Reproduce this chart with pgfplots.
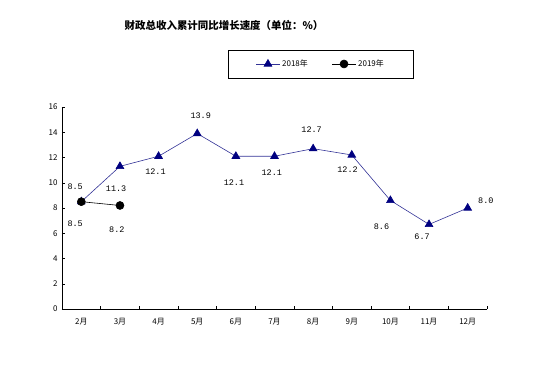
\documentclass[border=0pt]{standalone}
\usepackage{fontspec}
\setmainfont{Liberation Sans}
\newfontfamily\cjk{Noto Sans CJK SC}
\newfontfamily\lab{Liberation Mono}
\usepackage{pgfplots}
\pgfplotsset{compat=1.18}
\definecolor{navy}{RGB}{0,0,128}
\definecolor{navyline}{RGB}{50,50,150}
\begin{document}
\begin{tikzpicture}
\useasboundingbox (0,0) rectangle (533bp,386bp);
\node[font=\cjk\bfseries\fontsize{10.5}{12}\selectfont] at (224bp,361bp) {财政总收入累计同比增长速度（单位：\%）};
\begin{axis}[
  at={(62bp,77bp)}, anchor=south west,
  scale only axis, width=425bp, height=202bp,
  xmin=-0.5, xmax=10.5, ymin=0, ymax=16,
  axis x line*=bottom, axis y line*=left,
  xtick={0,...,10},
  xticklabels={2月,3月,4月,5月,6月,7月,8月,9月,10月,11月,12月},
  minor xtick={-0.5,0.5,...,10.5},
  major x tick style={draw=none},
  ytick={0,2,...,16},
  tick align=inside,
  major tick length=3bp, minor tick length=3bp,
  tick style={black, line width=0.5pt},
  axis line style={black, line width=0.6pt},
  x tick label style={font=\cjk\fontsize{8}{9}\selectfont, yshift=-6bp},
  y tick label style={font=\cjk\fontsize{8}{9}\selectfont, xshift=-1bp},
  /pgf/number format/assume math mode=true,
  legend style={at={(rel axis cs:0.609,1.213)}, anchor=center, legend columns=2,
    draw=black, line width=0.6pt, font=\fontsize{8}{9}\selectfont\cjk,
    inner xsep=27bp, inner ysep=8bp,
    /tikz/every even column/.append style={column sep=22bp}},
  legend cell align=left,
  legend image code/.code={\draw[mark repeat=2,mark phase=2] plot coordinates {(0cm,0cm)(0.42cm,0cm)(0.84cm,0cm)};},
  clip=false,
]
\addplot[navyline, line width=0.6pt, mark=triangle*, mark size=4.5,
  mark options={fill=navy, draw=navy, solid}]
  coordinates {(0,8.5)(1,11.3)(2,12.1)(3,13.9)(4,12.1)(5,12.1)(6,12.7)(7,12.2)(8,8.6)(9,6.7)(10,8.0)};
\addlegendentry{2018年}
\addplot[black, line width=0.6pt, mark=*, mark size=4,
  mark options={fill=black, solid}]
  coordinates {(0,8.5)(1,8.2)};
\addlegendentry{2019年}
\begin{scope}[every node/.style={font=\lab\fontsize{8.5}{9}\selectfont}]
\node at (axis cs:-0.16,6.73) {8.5};
\node at (axis cs:-0.16,9.69) {8.5};
\node at (axis cs:0.90,9.5) {11.3};
\node at (axis cs:0.92,6.31) {8.2};
\node at (axis cs:1.92,10.88) {12.1};
\node at (axis cs:3.09,15.31) {13.9};
\node at (axis cs:3.95,10.03) {12.1};
\node at (axis cs:4.93,10.83) {12.1};
\node at (axis cs:5.96,14.23) {12.7};
\node at (axis cs:6.89,11.0) {12.2};
\node at (axis cs:7.77,6.52) {8.6};
\node at (axis cs:8.82,5.73) {6.7};
\node at (axis cs:10.47,8.55) {8.0};
\end{scope}
\end{axis}
\end{tikzpicture}
\end{document}
